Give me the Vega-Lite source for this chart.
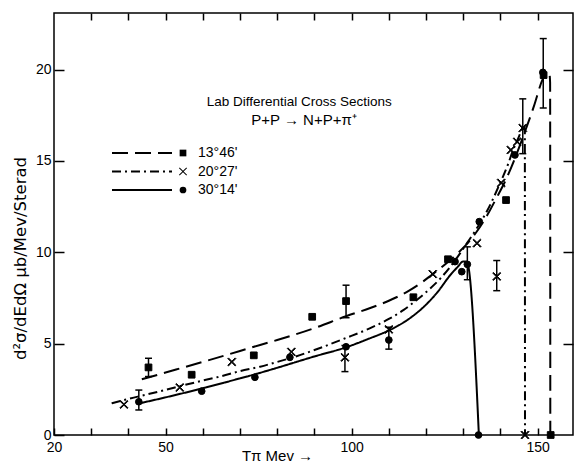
{
  "$schema": "https://vega.github.io/schema/vega-lite/v6.json",
  "width": 519,
  "height": 422,
  "autosize": {"type": "none"},
  "padding": {"left": 54, "top": 13, "right": 2, "bottom": 29},
  "background": "white",
  "config": {
    "view": {"stroke": "black", "strokeWidth": 1.5},
    "font": "Liberation Sans",
    "axis": {"domain": false, "grid": false, "ticks": true, "tickColor": "black", "tickWidth": 1.5, "tickOpacity": 1, "labelColor": "black", "labelFont": "Liberation Sans", "labelFontSize": 14, "titleFont": "Liberation Sans", "titleColor": "black", "titleFontWeight": "normal"},
    "legend": {"labelFont": "Liberation Sans", "labelColor": "black"}
  },
  "datasets": {
    "curves": [
      {"curve": "13°46'", "x": 43.6, "y": 3.05}, {"curve": "13°46'", "x": 50, "y": 3.42}, {"curve": "13°46'", "x": 60, "y": 4.0}, {"curve": "13°46'", "x": 70, "y": 4.6}, {"curve": "13°46'", "x": 75.4, "y": 4.93}, {"curve": "13°46'", "x": 80, "y": 5.2}, {"curve": "13°46'", "x": 90, "y": 5.85}, {"curve": "13°46'", "x": 98.5, "y": 6.5}, {"curve": "13°46'", "x": 105, "y": 6.95}, {"curve": "13°46'", "x": 110, "y": 7.35}, {"curve": "13°46'", "x": 115, "y": 7.85}, {"curve": "13°46'", "x": 118.5, "y": 8.3}, {"curve": "13°46'", "x": 121.5, "y": 8.76}, {"curve": "13°46'", "x": 124, "y": 9.15}, {"curve": "13°46'", "x": 126.5, "y": 9.58}, {"curve": "13°46'", "x": 128.5, "y": 9.95}, {"curve": "13°46'", "x": 130.5, "y": 10.35}, {"curve": "13°46'", "x": 133.5, "y": 11.1}, {"curve": "13°46'", "x": 136.5, "y": 12.05}, {"curve": "13°46'", "x": 139, "y": 13.0}, {"curve": "13°46'", "x": 141.4, "y": 13.95}, {"curve": "13°46'", "x": 144, "y": 15.2}, {"curve": "13°46'", "x": 146.4, "y": 16.5}, {"curve": "13°46'", "x": 149, "y": 18.0}, {"curve": "13°46'", "x": 151.3, "y": 19.45}, {"curve": "13°46'", "x": 152.4, "y": 19.85}, {"curve": "13°46'", "x": 153.2, "y": 19.7}, {"curve": "13°46'", "x": 153.35, "y": 19.3}, {"curve": "13°46'", "x": 153.4, "y": 0},
      {"curve": "20°27'", "x": 35.5, "y": 1.73}, {"curve": "20°27'", "x": 40, "y": 1.98}, {"curve": "20°27'", "x": 45, "y": 2.22}, {"curve": "20°27'", "x": 50, "y": 2.47}, {"curve": "20°27'", "x": 55, "y": 2.73}, {"curve": "20°27'", "x": 60, "y": 2.98}, {"curve": "20°27'", "x": 65, "y": 3.22}, {"curve": "20°27'", "x": 70, "y": 3.5}, {"curve": "20°27'", "x": 75.4, "y": 3.74}, {"curve": "20°27'", "x": 80, "y": 4.0}, {"curve": "20°27'", "x": 85, "y": 4.3}, {"curve": "20°27'", "x": 90, "y": 4.65}, {"curve": "20°27'", "x": 98.2, "y": 5.29}, {"curve": "20°27'", "x": 105, "y": 5.85}, {"curve": "20°27'", "x": 110, "y": 6.35}, {"curve": "20°27'", "x": 114, "y": 6.85}, {"curve": "20°27'", "x": 117.5, "y": 7.39}, {"curve": "20°27'", "x": 121, "y": 8.0}, {"curve": "20°27'", "x": 124, "y": 8.6}, {"curve": "20°27'", "x": 126.5, "y": 9.21}, {"curve": "20°27'", "x": 129, "y": 9.9}, {"curve": "20°27'", "x": 131, "y": 10.5}, {"curve": "20°27'", "x": 133.6, "y": 11.3}, {"curve": "20°27'", "x": 136.5, "y": 12.3}, {"curve": "20°27'", "x": 139.5, "y": 13.6}, {"curve": "20°27'", "x": 142, "y": 14.8}, {"curve": "20°27'", "x": 143.4, "y": 15.6}, {"curve": "20°27'", "x": 145, "y": 16.35}, {"curve": "20°27'", "x": 146, "y": 16.85}, {"curve": "20°27'", "x": 146.4, "y": 16.95}, {"curve": "20°27'", "x": 146.55, "y": 16.6}, {"curve": "20°27'", "x": 146.6, "y": 0},
      {"curve": "30°14'", "x": 42.7, "y": 1.72}, {"curve": "30°14'", "x": 50, "y": 2.06}, {"curve": "30°14'", "x": 60, "y": 2.56}, {"curve": "30°14'", "x": 70, "y": 3.1}, {"curve": "30°14'", "x": 75, "y": 3.38}, {"curve": "30°14'", "x": 80, "y": 3.68}, {"curve": "30°14'", "x": 90, "y": 4.3}, {"curve": "30°14'", "x": 98.2, "y": 4.78}, {"curve": "30°14'", "x": 105, "y": 5.3}, {"curve": "30°14'", "x": 110.3, "y": 5.75}, {"curve": "30°14'", "x": 115, "y": 6.3}, {"curve": "30°14'", "x": 119.3, "y": 7.0}, {"curve": "30°14'", "x": 123, "y": 7.8}, {"curve": "30°14'", "x": 126.5, "y": 8.75}, {"curve": "30°14'", "x": 128.5, "y": 9.2}, {"curve": "30°14'", "x": 130, "y": 9.5}, {"curve": "30°14'", "x": 130.8, "y": 9.5}, {"curve": "30°14'", "x": 131.3, "y": 9.3}, {"curve": "30°14'", "x": 134.2, "y": 0}
    ],
    "points": [
      {"series": "13°46'", "x": 45.4, "y": 3.7}, {"series": "13°46'", "x": 57.0, "y": 3.3}, {"series": "13°46'", "x": 73.7, "y": 4.36}, {"series": "13°46'", "x": 89.4, "y": 6.47}, {"series": "13°46'", "x": 98.5, "y": 7.33}, {"series": "13°46'", "x": 116.6, "y": 7.54}, {"series": "13°46'", "x": 125.9, "y": 9.62}, {"series": "13°46'", "x": 141.5, "y": 12.86}, {"series": "13°46'", "x": 151.6, "y": 19.7}, {"series": "13°46'", "x": 153.5, "y": 0},
      {"series": "20°27'", "x": 38.8, "y": 1.67}, {"series": "20°27'", "x": 53.8, "y": 2.6}, {"series": "20°27'", "x": 67.8, "y": 4.0}, {"series": "20°27'", "x": 83.8, "y": 4.55}, {"series": "20°27'", "x": 98.2, "y": 4.25}, {"series": "20°27'", "x": 110.0, "y": 5.78}, {"series": "20°27'", "x": 121.8, "y": 8.81}, {"series": "20°27'", "x": 133.7, "y": 10.5}, {"series": "20°27'", "x": 139.0, "y": 8.68}, {"series": "20°27'", "x": 140.2, "y": 13.8}, {"series": "20°27'", "x": 142.8, "y": 15.6}, {"series": "20°27'", "x": 144.5, "y": 16.05}, {"series": "20°27'", "x": 146.0, "y": 16.8}, {"series": "20°27'", "x": 146.6, "y": 0},
      {"series": "30°14'", "x": 42.8, "y": 1.82}, {"series": "30°14'", "x": 59.7, "y": 2.4}, {"series": "30°14'", "x": 74.0, "y": 3.16}, {"series": "30°14'", "x": 83.4, "y": 4.25}, {"series": "30°14'", "x": 98.5, "y": 4.83}, {"series": "30°14'", "x": 110.0, "y": 5.2}, {"series": "30°14'", "x": 127.8, "y": 9.49}, {"series": "30°14'", "x": 129.6, "y": 8.94}, {"series": "30°14'", "x": 131.1, "y": 9.34}, {"series": "30°14'", "x": 134.3, "y": 11.68}, {"series": "30°14'", "x": 143.9, "y": 15.33}, {"series": "30°14'", "x": 151.4, "y": 19.85}, {"series": "30°14'", "x": 134.1, "y": 0}
    ],
    "errors": [
      {"x": 42.8, "lo": 1.37, "hi": 2.46}, {"x": 45.4, "lo": 3.2, "hi": 4.2}, {"x": 98.5, "lo": 6.42, "hi": 8.2}, {"x": 98.2, "lo": 3.47, "hi": 4.9}, {"x": 110.0, "lo": 4.7, "hi": 5.9}, {"x": 131.1, "lo": 8.5, "hi": 10.3}, {"x": 139.0, "lo": 7.9, "hi": 9.55}, {"x": 146.0, "lo": 15.4, "hi": 18.4}, {"x": 151.5, "lo": 17.9, "hi": 21.7}
    ]
  },
  "layer": [
    {
      "data": {"name": "curves"},
      "mark": {"type": "line", "color": "black", "strokeWidth": 2, "interpolate": "monotone"},
      "encoding": {
        "x": {"field": "x", "type": "quantitative", "scale": {"domain": [20, 159.5], "nice": false, "zero": false},
          "axis": {"orient": "bottom", "offset": -7, "tickSize": 7, "values": [20, 30, 40, 50, 60, 70, 80, 90, 100, 110, 120, 130, 140, 150], "labelExpr": "datum.value == 20 || datum.value == 50 || datum.value == 100 || datum.value == 150 ? datum.label : ''", "labelPadding": 5, "labelFlush": false, "labelOverlap": false, "title": "Tπ Mev →", "titleFontSize": 15, "titleX": 223, "titleY": 27, "titleAlign": "center", "titleBaseline": "middle", "titleAngle": 0}},
        "y": {"field": "y", "type": "quantitative", "scale": {"domain": [0, 23.1], "nice": false, "zero": false},
          "axis": {"orient": "left", "offset": -10, "tickSize": 10, "values": [0, 5, 10, 15, 20], "labelPadding": 3, "labelFlush": false, "title": "d²σ/dEdΩ  μb/Mev/Sterad", "titleFont": "DejaVu Sans", "titleFontSize": 16.5, "titleX": -44, "titleY": 245, "titleAngle": 270, "titleAlign": "center", "titleBaseline": "middle"}},
        "strokeDash": {"field": "curve", "type": "nominal",
          "scale": {"domain": ["13°46'", "20°27'", "30°14'"], "range": [[16, 7], [9, 4, 2, 4], [1, 0]]},
          "legend": {"orient": "none", "legendX": 81, "legendY": 133, "title": null, "symbolType": "M-5,0L5,0", "symbolSize": 144, "symbolStrokeWidth": 2, "symbolStrokeColor": "black", "labelOpacity": 0, "labelFontSize": 14, "rowPadding": 4.5, "labelOffset": 8}}
      }
    },
    {
      "data": {"name": "errors"},
      "mark": {"type": "rule", "color": "black", "strokeWidth": 1.5},
      "encoding": {
        "x": {"field": "x", "type": "quantitative", "axis": {"orient": "top", "offset": -7, "tickSize": 7, "values": [30, 40, 50, 60, 70, 80, 90, 100, 110, 120, 130, 140, 150], "labels": false, "title": null}},
        "y": {"field": "lo", "type": "quantitative", "axis": {"orient": "right", "offset": -10, "tickSize": 10, "values": [5, 10, 15, 20], "labels": false, "title": null}},
        "y2": {"field": "hi"}
      }
    },
    {
      "data": {"name": "errors"},
      "mark": {"type": "tick", "color": "black", "orient": "horizontal", "size": 7, "thickness": 1.5, "opacity": 1},
      "encoding": {
        "x": {"field": "x", "type": "quantitative", "axis": null},
        "y": {"field": "lo", "type": "quantitative", "axis": null}
      }
    },
    {
      "data": {"name": "errors"},
      "mark": {"type": "tick", "color": "black", "orient": "horizontal", "size": 7, "thickness": 1.5, "opacity": 1},
      "encoding": {
        "x": {"field": "x", "type": "quantitative", "axis": null},
        "y": {"field": "hi", "type": "quantitative", "axis": null}
      }
    },
    {
      "data": {"name": "points"},
      "mark": {"type": "point", "filled": true, "fill": "black", "stroke": "black", "strokeWidth": 1, "size": 45, "opacity": 1},
      "encoding": {
        "x": {"field": "x", "type": "quantitative", "axis": null},
        "y": {"field": "y", "type": "quantitative", "axis": null},
        "shape": {"field": "series", "type": "nominal",
          "scale": {"range": ["square", "M-1.2,-1L-1,-1.2L0,-0.2L1,-1.2L1.2,-1L0.2,0L1.2,1L1,1.2L0,0.2L-1,1.2L-1.2,1L-0.2,0Z", "circle"]},
          "legend": {"orient": "none", "legendX": 122, "legendY": 133, "title": null, "symbolSize": 45, "symbolFillColor": "black", "symbolStrokeColor": "black", "symbolStrokeWidth": 1, "symbolOpacity": 1, "labelFontSize": 14, "rowPadding": 4.5, "labelOffset": 8,
            "encode": {"symbols": {"update": {"stroke": {"value": "black"}, "strokeWidth": {"value": 1}, "fill": {"value": "black"}, "opacity": {"value": 1}}}}}}
      }
    },
    {
      "data": {"values": [{"t": "Lab Differential Cross Sections"}]},
      "mark": {"type": "text", "color": "black", "fontSize": 13.5, "font": "Liberation Sans", "align": "center", "baseline": "middle"},
      "encoding": {
        "x": {"datum": 85.9, "type": "quantitative", "axis": null},
        "y": {"datum": 18.23, "type": "quantitative", "axis": null},
        "text": {"field": "t"}
      }
    },
    {
      "data": {"values": [{"t": "P+P → N+P+π⁺"}]},
      "mark": {"type": "text", "color": "black", "fontSize": 15, "font": "Liberation Sans", "align": "center", "baseline": "middle"},
      "encoding": {
        "x": {"datum": 87.2, "type": "quantitative", "axis": null},
        "y": {"datum": 17.24, "type": "quantitative", "axis": null},
        "text": {"field": "t"}
      }
    }
  ]
}
